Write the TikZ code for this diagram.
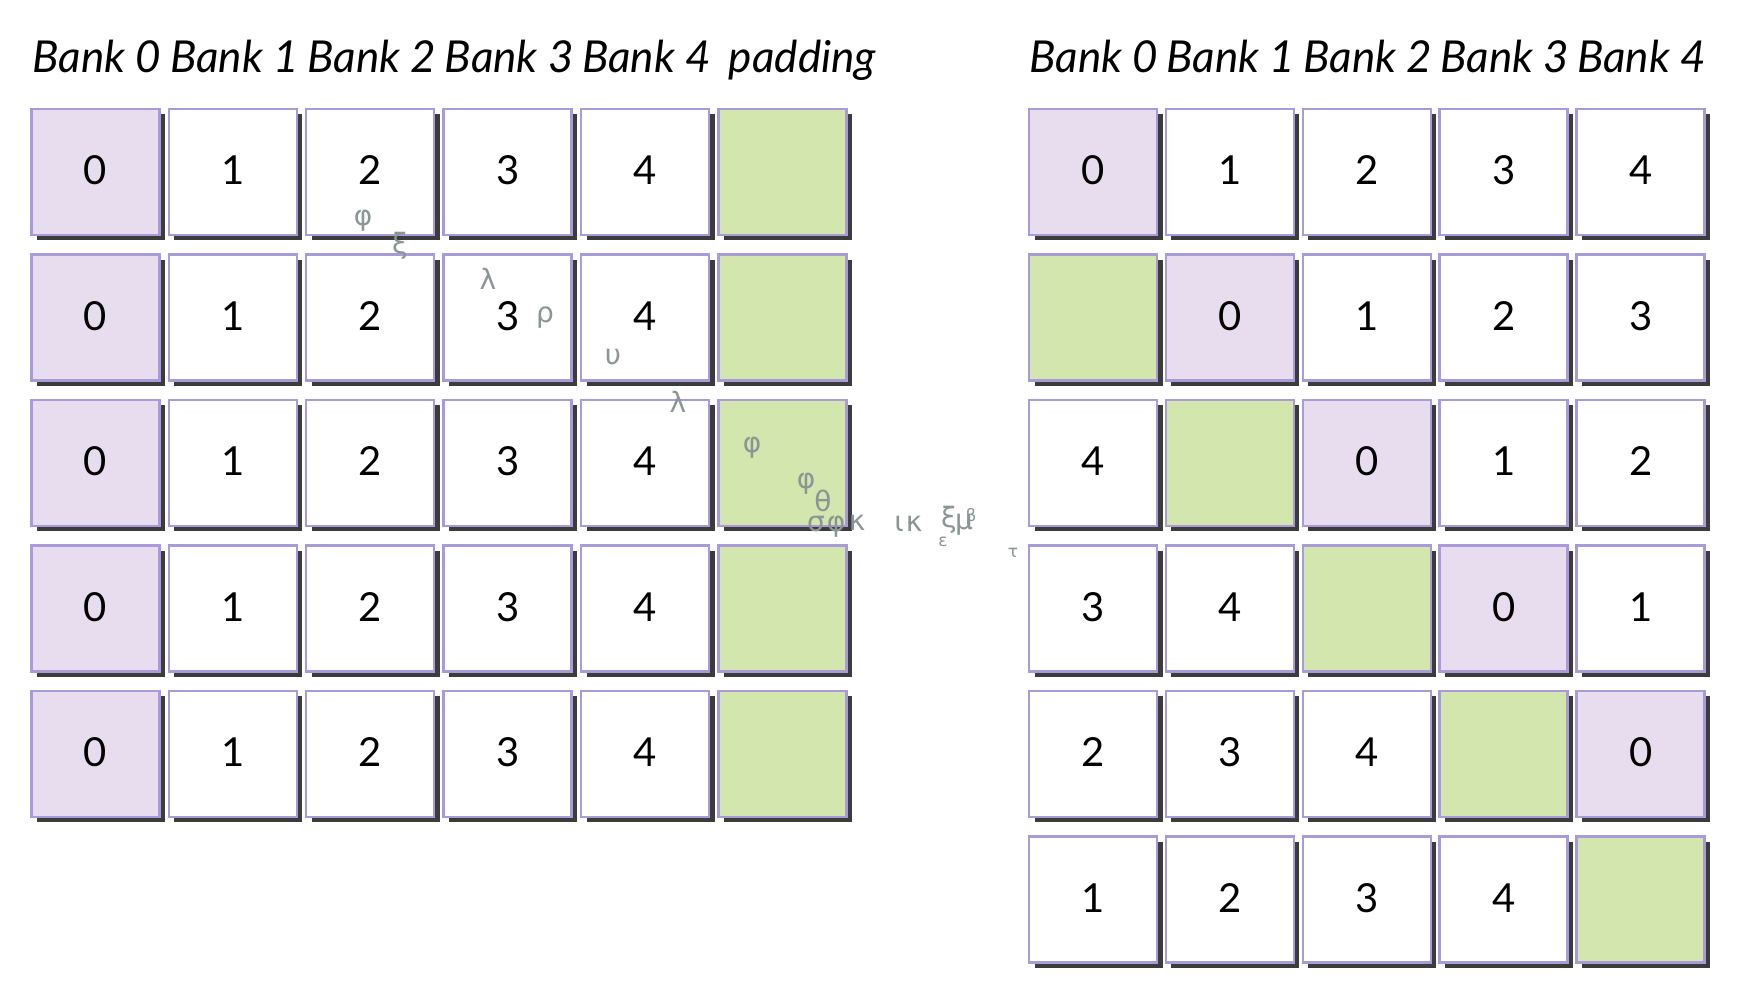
\documentclass[tikz,border=0pt]{standalone}
\usepackage{fontspec}
\setmainfont{Lato}
\newfontfamily\greekfont{DejaVu Sans}
\usetikzlibrary{shadows}
\definecolor{lav}{HTML}{A99BD8}
\definecolor{pur}{HTML}{E7DDEE}
\definecolor{grn}{HTML}{D3E6AD}
\definecolor{shd}{HTML}{3C3C3C}
\definecolor{ghost}{HTML}{8A9595}
\tikzset{
 cell/.style={rectangle, draw=lav, line width=2.5pt, minimum width=128pt, minimum height=126pt,
   inner sep=0pt, fill=white, drop shadow={shadow xshift=5.5pt, shadow yshift=-5.5pt, fill=shd, opacity=1},
   font=\fontsize{40}{48}\selectfont},
 pcell/.style={cell, fill=pur},
 gcell/.style={cell, fill=grn},
 ce0/.style={pcell}, ce1/.style={cell}, ce2/.style={cell}, ce3/.style={cell}, ce4/.style={cell}, ce5/.style={gcell},
 hdr/.style={font=\fontsize{44}{50}\selectfont\itshape, inner sep=0pt, anchor=base},
 ghostl/.style={text=ghost, font=\greekfont\fontsize{28}{30}\selectfont, inner sep=0pt},
 ghosts/.style={ghostl, font=\greekfont\fontsize{17}{20}\selectfont},
}
\newcommand{\dig}[1]{\raisebox{3pt}{#1}}
\begin{document}
\begin{tikzpicture}[x=1pt,y=-1pt]
\fill[white] (0,0) rectangle (1738,1006);
\useasboundingbox (0,0) rectangle (1738,1006);
% headers
\foreach \c in {0,...,4}{
  \node[hdr] (LH\c) at ({97+137.4*\c},73) {Bank \c};
  \node[hdr] (RH\c) at ({1094+136.9*\c},73) {Bank \c};
}
\node[hdr] (LH5) at (802.5,73) {padding};
% left grid
\foreach \r in {0,...,4}{
  \node[pcell] (L-\r-0) at (95.4,{171.8+145.5*\r}) {\dig{0}};
  \foreach \c in {1,...,4}{
    \node[cell] (L-\r-\c) at ({95.4+137.4*\c},{171.8+145.5*\r}) {\dig{\c}};
  }
  \node[gcell] (L-\r-5) at ({95.4+137.4*5},{171.8+145.5*\r}) {};
}
% right grid
\foreach \r in {0,...,5}{
  \foreach \c in {0,...,4}{
    \pgfmathtruncatemacro\v{mod(\c-\r+6,6)}
    \node[ce\v] (R-\r-\c) at ({1093+136.9*\c},{171.8+145.5*\r}) {\ifnum\v<5 \dig{\v}\fi};
  }
}
% stray glyphs
\node[ghostl] (g1) at (363,221) {φ};
\node[ghostl] (g2) at (400,246) {ξ};
\node[ghostl] (g3) at (488,279) {λ};
\node[ghostl] (g4) at (545,318) {ρ};
\node[ghostl] (g5) at (613,357) {υ};
\node[ghostl] (g6) at (678,402) {λ};
\node[ghostl] (g7) at (752,448) {φ};
\node[ghostl] (g8) at (806,484) {φ};
\node[ghostl] (g9) at (823,501) {θ};
\node[ghostl] (g10) at (816,524) {σ};
\node[ghostl] (g11) at (836,527) {φ};
\node[ghostl] (g12) at (857,523) {κ};
\node[ghostl] (g13) at (899,524) {ι};
\node[ghostl] (g14) at (914,524) {κ};
\node[ghostl] (g15) at (949,520) {ξ};
\node[ghostl] (g16) at (964,525) {μ};
\node[ghosts] (g17) at (971,517) {β};
\node[ghosts] (g18) at (943,542) {ε};
\node[ghosts] (g19) at (1013,553) {τ};
\end{tikzpicture}
\end{document}
